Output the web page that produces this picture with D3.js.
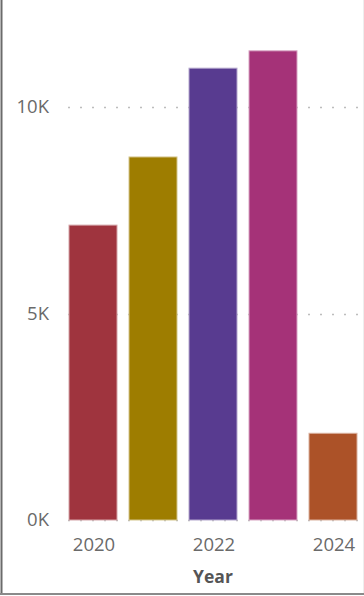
<!DOCTYPE html>
<html>
<head>
<meta charset="utf-8">
<script src="https://cdn.jsdelivr.net/npm/d3@7"></script>
<style>
  body { margin: 0; background: #fff; }
  svg { display: block; font-family: "Segoe UI", "Open Sans", sans-serif; }
</style>
</head>
<body>
<svg id="chart" width="364" height="596"></svg>
<script>
const years = ["2020", "2021", "2022", "2023", "2024"];
const totals = [7140, 8790, 10940, 11360, 2100];
const barColors = ["#9f343e", "#9e7d00", "#583b90", "#a53278", "#ac5228"];
const yTicks = [0, 5000, 10000];
const xTickLabels = ["2020", "2022", "2024"];

const width = 364;
const height = 596;

const svg = d3.select("#chart");

// frame lines (left and bottom edges of the visual)
svg.append("line")
    .attr("x1", 1.5).attr("x2", 1.5).attr("y1", 0).attr("y2", 595)
    .attr("stroke", "#6b6b6b").attr("stroke-width", 2);
svg.append("line")
    .attr("x1", 0).attr("x2", width).attr("y1", 594).attr("y2", 594)
    .attr("stroke", "#8a8a8a").attr("stroke-width", 2);
svg.append("line")
    .attr("x1", 363.5).attr("x2", 363.5).attr("y1", 0).attr("y2", 593)
    .attr("stroke", "#eeeeee").attr("stroke-width", 1);

const x = d3.scaleBand()
    .domain(years)
    .range([63, 363])
    .paddingInner(0.2)
    .paddingOuter(0.1);

const y = d3.scaleLinear()
    .domain([0, 12000])
    .range([520, 520 - 12000 * 413 / 10000]);

// gridlines
svg.append("g")
    .selectAll("line")
    .data(yTicks)
    .enter()
    .append("line")
    .attr("x1", 68)
    .attr("x2", width)
    .attr("y1", d => Math.round(y(d)) + 0.5)
    .attr("y2", d => Math.round(y(d)) + 0.5)
    .attr("stroke", "#bdbdbd")
    .attr("stroke-width", 1.5)
    .attr("stroke-dasharray", "2,10");

// y tick labels
svg.append("g")
    .selectAll("text")
    .data(yTicks)
    .enter()
    .append("text")
    .attr("x", 49)
    .attr("y", d => y(d))
    .attr("dy", "0.35em")
    .attr("text-anchor", "end")
    .attr("font-size", 18.5)
    .attr("fill", "#6a6a6a")
    .text(d => (d / 1000) + "K");

// bars
svg.append("g")
    .selectAll("rect")
    .data(years)
    .enter()
    .append("rect")
    .attr("x", d => x(d))
    .attr("y", (d, i) => y(totals[i]))
    .attr("width", x.bandwidth())
    .attr("height", (d, i) => y(0) - y(totals[i]))
    .attr("fill", (d, i) => barColors[i])
    .attr("stroke", (d, i) => d3.interpolateRgb(barColors[i], "#fff")(0.55))
    .attr("stroke-width", 1);

// x tick labels
svg.append("g")
    .selectAll("text")
    .data(xTickLabels)
    .enter()
    .append("text")
    .attr("x", d => x(d) + x.bandwidth() / 2 + 1)
    .attr("y", 545)
    .attr("dy", "0.35em")
    .attr("text-anchor", "middle")
    .attr("font-size", 18.5)
    .attr("fill", "#6a6a6a")
    .text(d => d);

// axis title
svg.append("text")
    .attr("x", 213)
    .attr("y", 577)
    .attr("dy", "0.35em")
    .attr("text-anchor", "middle")
    .attr("font-size", 17.5)
    .attr("font-weight", "bold")
    .attr("fill", "#555")
    .text("Year");
</script>
</body>
</html>
